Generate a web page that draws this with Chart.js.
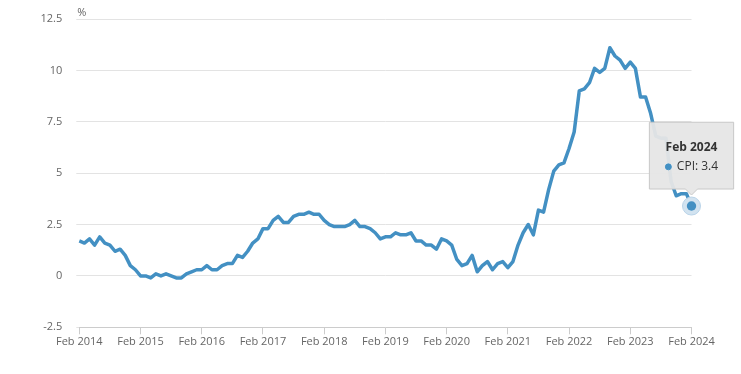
<!DOCTYPE html>
<html>
<head>
<meta charset="utf-8">
<script src="https://cdn.jsdelivr.net/npm/chart.js@4/dist/chart.umd.min.js"></script>
<style>
  html, body { margin: 0; padding: 0; background: #fff; }
  #wrap { width: 741px; height: 374px; }
</style>
</head>
<body>
<div id="wrap"><canvas id="chart-cpi"></canvas></div>
<script>
const months = ['Jan', 'Feb', 'Mar', 'Apr', 'May', 'Jun', 'Jul', 'Aug', 'Sep', 'Oct', 'Nov', 'Dec'];
const years = [2014, 2015, 2016, 2017, 2018, 2019, 2020, 2021, 2022, 2023, 2024];

// annual CPI rate, Feb 2014 .. Feb 2024
const cpi2014 = [1.7, 1.6, 1.8, 1.5, 1.9, 1.6, 1.5, 1.2, 1.3, 1.0, 0.5];          // Feb-Dec
const cpi2015 = [0.3, 0.0, 0.0, -0.1, 0.1, 0.0, 0.1, 0.0, -0.1, -0.1, 0.1, 0.2];
const cpi2016 = [0.3, 0.3, 0.5, 0.3, 0.3, 0.5, 0.6, 0.6, 1.0, 0.9, 1.2, 1.6];
const cpi2017 = [1.8, 2.3, 2.3, 2.7, 2.9, 2.6, 2.6, 2.9, 3.0, 3.0, 3.1, 3.0];
const cpi2018 = [3.0, 2.7, 2.5, 2.4, 2.4, 2.4, 2.5, 2.7, 2.4, 2.4, 2.3, 2.1];
const cpi2019 = [1.8, 1.9, 1.9, 2.1, 2.0, 2.0, 2.1, 1.7, 1.7, 1.5, 1.5, 1.3];
const cpi2020 = [1.8, 1.7, 1.5, 0.8, 0.5, 0.6, 1.0, 0.2, 0.5, 0.7, 0.3, 0.6];
const cpi2021 = [0.7, 0.4, 0.7, 1.5, 2.1, 2.5, 2.0, 3.2, 3.1, 4.2, 5.1, 5.4];
const cpi2022 = [5.5, 6.2, 7.0, 9.0, 9.1, 9.4, 10.1, 9.9, 10.1, 11.1, 10.7, 10.5];
const cpi2023 = [10.1, 10.4, 10.1, 8.7, 8.7, 7.9, 6.8, 6.7, 6.7, 4.6, 3.9, 4.0];
const cpi2024 = [4.0, 3.4];                                                     // Jan-Feb

const yTicks = [-2.5, 0, 2.5, 5, 7.5, 10, 12.5];

const cpiValues = [].concat(cpi2014, cpi2015, cpi2016, cpi2017, cpi2018, cpi2019,
    cpi2020, cpi2021, cpi2022, cpi2023, cpi2024);

const labels = [];
years.forEach(y => months.forEach(m => labels.push(m + ' ' + y)));
const monthLabels = labels.slice(1, 1 + cpiValues.length);

const lineColor = '#4390c3';

// tooltip sits just above the hovered point
Chart.Tooltip.positioners.abovePoint = (elements) => {
    if (!elements.length) return false;
    const el = elements[0].element;
    return { x: el.x, y: el.y - 11 };
};

const haloPlugin = {
    id: 'halo',
    afterDatasetsDraw(chart) {
        const ctx = chart.ctx;
        chart.getActiveElements().forEach(a => {
            const p = a.element;
            ctx.save();
            ctx.beginPath();
            ctx.arc(p.x, p.y, 9, 0, Math.PI * 2);
            ctx.fillStyle = '#d2e3f0';
            ctx.fill();
            ctx.lineWidth = 1;
            ctx.strokeStyle = '#b9d3e8';
            ctx.stroke();
            ctx.beginPath();
            ctx.arc(p.x, p.y, 4.7, 0, Math.PI * 2);
            ctx.fillStyle = lineColor;
            ctx.fill();
            ctx.restore();
        });
    }
};

const unitPlugin = {
    id: 'unit',
    afterDraw(chart) {
        const ctx = chart.ctx;
        ctx.save();
        ctx.font = '11px "Open Sans"';
        ctx.fillStyle = '#666';
        ctx.textBaseline = 'alphabetic';
        ctx.fillText('%', chart.chartArea.left - 2, chart.chartArea.top - 3);
        ctx.restore();
    }
};

Chart.defaults.font.family = '"Open Sans", sans-serif';
Chart.defaults.font.size = 11;
Chart.defaults.color = '#666';

const chart = new Chart(document.getElementById('chart-cpi'), {
    type: 'line',
    data: {
        labels: monthLabels,
        datasets: [{
            label: 'CPI',
            data: cpiValues,
            borderColor: lineColor,
            backgroundColor: lineColor,
            borderWidth: 3.5,
            pointRadius: 0,
            pointHoverRadius: 0,
            tension: 0,
            borderJoinStyle: 'round'
        }]
    },
    options: {
        responsive: true,
        maintainAspectRatio: false,
        animation: false,
        events: [],
        layout: { padding: { top: 19, right: 49.5, bottom: 16.7, left: 39.3 } },
        scales: {
            x: {
                afterFit: (axis) => { axis.height = 30; axis.paddingLeft = 0; axis.paddingRight = 0; },
                grid: { drawOnChartArea: false, color: '#ccc', tickLength: 7 },
                border: { color: '#ccc' },
                ticks: {
                    autoSkip: false,
                    maxRotation: 0,
                    padding: 1,
                    color: '#666',
                    callback: (v, i) => i % 12 === 0 ? monthLabels[i] : null
                }
            },
            y: {
                min: -2.5,
                max: 12.5,
                afterBuildTicks: (axis) => { axis.ticks = yTicks.map(v => ({ value: v })); },
                afterFit: (axis) => { axis.width = 40; axis.paddingTop = 0; axis.paddingBottom = 0; },
                grid: { color: '#e3e3e3', tickLength: 3, tickColor: '#e3e3e3' },
                border: { display: false },
                ticks: { padding: 14, color: '#666' }
            }
        },
        plugins: {
            legend: { display: false },
            tooltip: {
                position: 'abovePoint',
                xAlign: 'center',
                yAlign: 'bottom',
                caretSize: 6,
                caretPadding: 0,
                cornerRadius: 0,
                backgroundColor: 'rgba(230,230,230,0.95)',
                borderColor: '#c8c8c8',
                borderWidth: 1,
                titleColor: '#333',
                bodyColor: '#333',
                titleFont: { weight: 'bold', size: 12 },
                bodyFont: { size: 12 },
                titleAlign: 'center',
                bodyAlign: 'center',
                titleMarginBottom: 5,
                padding: { top: 18, bottom: 15, left: 16, right: 16 },
                usePointStyle: true,
                boxWidth: 6,
                boxHeight: 6,
                boxPadding: 3,
                callbacks: {
                    label: (c) => 'CPI: ' + c.parsed.y,
                    labelColor: () => ({ borderColor: lineColor, backgroundColor: lineColor }),
                    labelPointStyle: () => ({ pointStyle: 'circle', rotation: 0 })
                }
            }
        }
    },
    plugins: [haloPlugin, unitPlugin]
});

// show the Feb 2024 tooltip as in the original
const last = cpiValues.length - 1;
chart.setActiveElements([{ datasetIndex: 0, index: last }]);
chart.tooltip.setActiveElements([{ datasetIndex: 0, index: last }], { x: 0, y: 0 });
chart.update();
</script>
</body>
</html>
